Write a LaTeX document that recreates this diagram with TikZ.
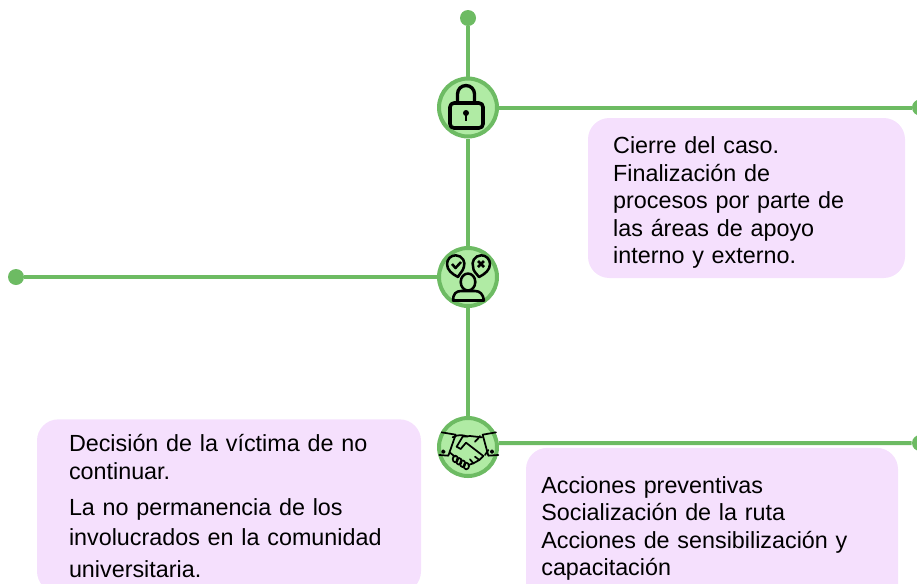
\documentclass[tikz,border=0pt]{standalone}
\usepackage{fontspec}
\setmainfont{Liberation Sans}
\usepackage{xcolor}
\usetikzlibrary{positioning}
\definecolor{rutagreen}{HTML}{6DBB63}
\definecolor{rutafill}{HTML}{B0EBA4}
\definecolor{panelpink}{HTML}{F5E0FD}
\tikzset{
    hub/.style={circle, draw=rutagreen, fill=rutafill, line width=3pt, minimum size=43.5pt, inner sep=0pt},
    dot/.style={circle, fill=rutagreen, minimum size=12pt, inner sep=0pt},
    link/.style={draw=rutagreen, line width=3pt},
    panel/.style={fill=panelpink, rounded corners=16pt, align=left, inner xsep=0pt, inner ysep=0pt,
        font=\fontsize{17.5}{20.6}\selectfont, text=black},
    glyph/.style={draw=black, line width=1.9pt, line join=round},
    thin glyph/.style={draw=black, line width=1.3pt, line join=round, line cap=round}
}

\begin{document}
\begin{tikzpicture}[x=0.75pt, y=-0.75pt]
    \useasboundingbox (0, 0) rectangle (917, 583);
    \clip (0, 0) rectangle (917, 583);

    % panels
    \node [panel, minimum width=237.75pt, minimum height=120pt, text width=200pt] (cierre) at (746.5, 198)
        {\rule{0pt}{19.5pt}Cierre del caso.\\ Finalización de\\ procesos por parte de\\ las áreas de apoyo\\ interno y externo.};
    \node [panel, minimum width=288pt, minimum height=130pt, text width=240pt] (decision) at (229, 506)
        {Decisión de la víctima de no\\[0.4pt] continuar.\\[6.4pt] La no permanencia de los\\[2.6pt] involucrados en la comunidad\\[3.4pt] universitaria.};
    \node [panel, minimum width=279pt, minimum height=121pt, text width=256pt] (acciones) at (712, 528.5)
        {Acciones preventivas\\ Socialización de la ruta\\ Acciones de sensibilización y\\ capacitación};

    % route
    \node [dot] (dottop) at (468, 18) {};
    \node [dot] (dotlock) at (920, 107.5) {};
    \node [dot] (dotface) at (16, 277) {};
    \node [dot] (dotshake) at (920, 443) {};
    \node [hub] (lock) at (468, 107.5) {};
    \node [hub] (face) at (468, 277) {};
    \node [hub] (shake) at (468, 447) {};
    \path [link] (dottop) -- (lock);
    \path [link] (lock) -- (face);
    \path [link] (face) -- (shake);
    \path [link] (lock) -- (dotlock);
    \path [link] (face) -- (dotface);
    \path [link] (shake.7) -- (dotshake);

    % lock
    \draw [glyph, line width=2.7pt, rounded corners=3pt] (450, 103) rectangle (483, 128);
    \draw [glyph, line width=2.5pt] (457.5, 103) -- (457.5, 94) arc (180:360:8.5) -- (474.5, 103);
    \fill (466, 113) circle (3);
    \draw [glyph, line width=1.5pt] (466, 113) -- (466, 120.5);

    % face with the two choices
    \draw [glyph] (458, 277) .. controls (452, 274) and (447, 270) .. (447, 264) arc (180:380:8.7) .. controls (463, 271) and (460, 273) .. cycle;
    \draw [glyph] (479, 277) .. controls (485, 274) and (490, 270) .. (490, 264) arc (360:160:8.7) .. controls (473, 271) and (476, 273) .. cycle;
    \draw [glyph] (452, 264) -- (455.5, 268) -- (461, 262);
    \draw [glyph] (478, 261) -- (484, 267) (484, 261) -- (478, 267);
    \draw [glyph] (468, 282) ellipse (7.3 and 8.5);
    \draw [glyph] (453, 300.5) .. controls (453, 294) and (456, 291) .. (461, 291) -- (475, 291) .. controls (480, 291) and (483, 294) .. (484, 300.5) -- cycle;

    % handshake
    \begin{scope}[shift={(420, 400)}, x=0.25pt, y=-0.25pt]
        \draw [thin glyph] (65, 97) -- (107, 104) -- (85, 167) -- (58, 165);
        \draw [thin glyph] (228, 97) -- (188, 104) -- (205, 167) -- (235, 165);
        \draw [thin glyph] (98, 112) .. controls (112, 103) and (130, 104) .. (142, 110);
        \draw [thin glyph] (110, 140) -- (128, 110) -- (150, 108) -- (186, 112);
        \draw [thin glyph] (110, 140) -- (122, 147) -- (138, 128) -- (190, 168) -- (178, 180) -- (165, 170);
        \draw [thin glyph] (165, 125) .. controls (172, 120) and (176, 112) .. (180, 108);
        \draw [thin glyph] (178, 180) -- (160, 190) -- (150, 178);
        \draw [thin glyph] (160, 190) -- (145, 195);
        \draw [thin glyph] (90, 158) -- (105, 170);
        \draw [thin glyph] (195, 165) -- (205, 150);
        \foreach \fx/\fy in {106/177, 117/184, 128/191, 139/198}
            \draw [thin glyph] (\fx, \fy) ellipse (8 and 10);
        \draw [thin glyph] (70, 155) circle (4);
        \draw [thin glyph] (216, 155) circle (4);
    \end{scope}
\end{tikzpicture}
\end{document}
